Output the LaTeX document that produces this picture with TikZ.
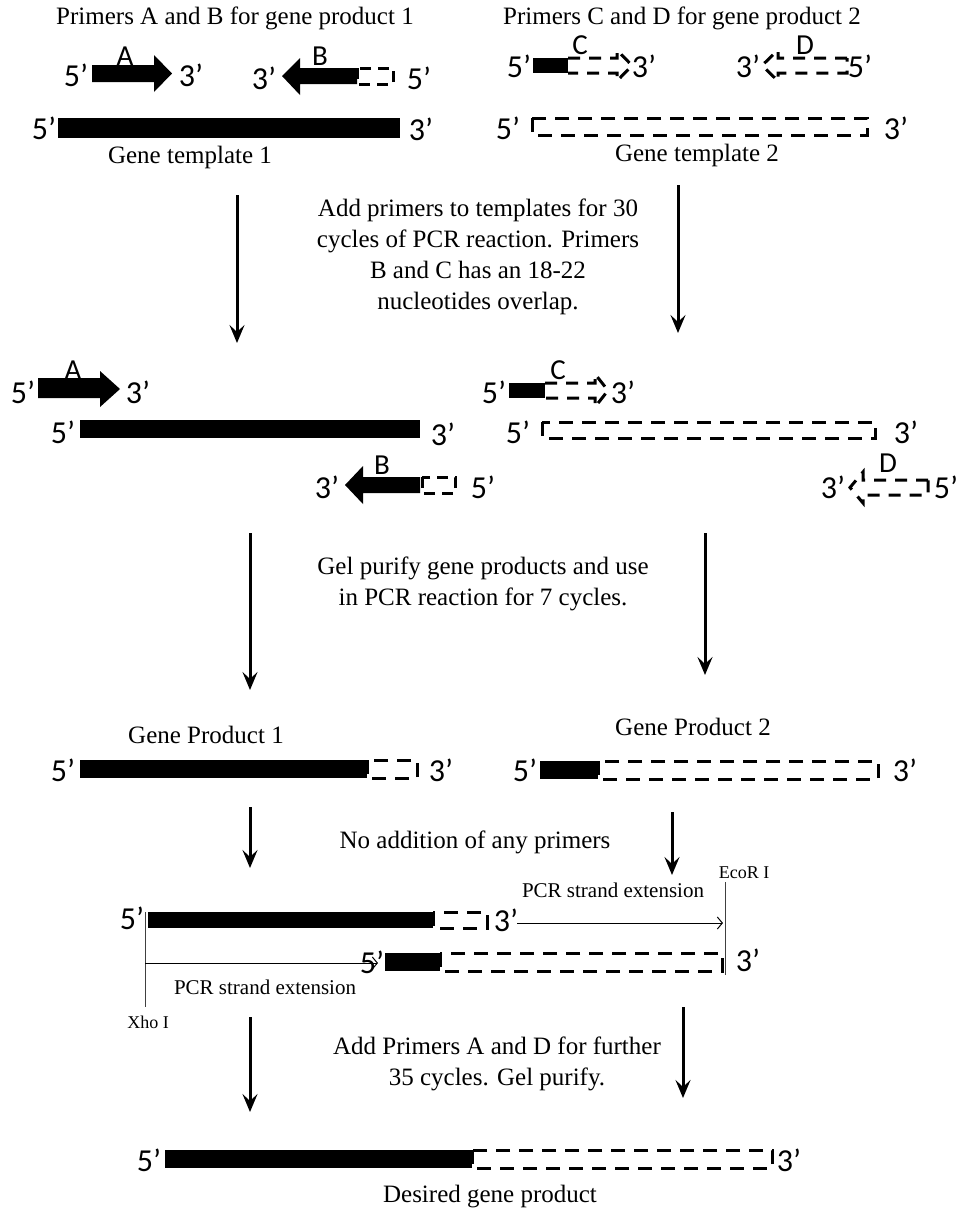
\documentclass[tikz,border=0pt]{standalone}
\usepackage{fontspec}
\setmainfont{Liberation Serif}
\newfontfamily\cali{Carlito}
\usetikzlibrary{arrows.meta}
\begin{document}
\begin{tikzpicture}[x=1pt,y=-1pt,
  txt/.style={font=\fontsize{25}{31}\selectfont, align=center, inner sep=0pt},
  small/.style={font=\fontsize{21}{25}\selectfont, inner sep=0pt},
  tiny/.style={font=\fontsize{18}{20}\selectfont, inner sep=0pt},
  lab/.style={font=\cali\fontsize{32}{32}\selectfont, inner sep=0pt},
  let/.style={font=\cali\fontsize{29}{29}\selectfont, inner sep=0pt},
  dsh/.style={line width=3pt, dash pattern=on 14pt off 9pt},
  flow/.style={line width=3pt, -{Stealth[length=18pt,width=15pt,inset=7pt]}},
  ext/.style={line width=1pt, -{Straight Barb[length=5pt,width=12pt]}},
  site/.style={line width=1pt, draw=black!75}]
\useasboundingbox (0,0) rectangle (961,1216);

% ---------- Row 1 ----------
\node[txt] (t1) at (235,18) {Primers A and B for gene product 1};
\node[txt] (t2) at (682,18) {Primers C and D for gene product 2};

\fill (92,65) -- (154,65) -- (154,55) -- (172,73.5) -- (154,92) -- (154,82) -- (92,82) -- cycle;
\node[lab] (r1a5) at (76,75) {5’};
\node[lab] (r1a3) at (191,75) {3’};
\node[let] (r1A) at (125,56) {A};

\fill (282,76) -- (300,58) -- (300,68) -- (357,68) -- (357,84) -- (300,84) -- (300,95) -- cycle;
\draw[dsh,dash pattern=on 11pt off 7pt] (357,68) rectangle (393,84);
\node[lab] (r1b3) at (264,78) {3’};
\node[lab] (r1b5) at (419,78) {5’};
\node[let] (r1B) at (320,56) {B};

\fill (58,118) rectangle (400,138);
\node[lab] (g15) at (44,128) {5’};
\node[lab] (g13) at (421,129) {3’};
\node[txt] (g1t) at (190,157) {Gene template 1};

\fill (533,58) rectangle (568,73);
\draw[dsh,dash pattern=on 12pt off 9pt] (568,58) -- (617,58) -- (617,50) -- (632,65.5) -- (617,81) -- (617,73) -- (568,73);
\node[lab] (r1c5) at (519,66) {5’};
\node[lab] (r1c3) at (644,66) {3’};
\node[let] (r1C) at (580,45) {C};

\draw[dsh,dash pattern=on 12pt off 9pt] (847,58) -- (778,58) -- (778,50) -- (762,65.5) -- (778,81) -- (778,73) -- (847,73) -- cycle;
\node[lab] (r1d3) at (748,66) {3’};
\node[lab] (r1d5) at (860,66) {5’};
\node[let] (r1D) at (805,45) {D};

\draw[dsh] (532,118) rectangle (867,135);
\node[lab] (g25) at (508,128) {5’};
\node[lab] (g23) at (896,128) {3’};
\node[txt] (g2t) at (697,155) {Gene template 2};

\coordinate (f1s) at (237,195); \coordinate (f1e) at (237,343);
\coordinate (f2s) at (678,185); \coordinate (f2e) at (678,333);
\draw[flow] (f1s) -- (f1e);
\draw[flow] (f2s) -- (f2e);
\node[txt] (s1) at (478,257) {Add primers to templates for 30\\cycles of PCR reaction. Primers\\B and C has an 18-22\\nucleotides overlap.};

% ---------- Row 2 ----------
\fill (38,378) -- (100,378) -- (100,371) -- (120,389) -- (100,407) -- (100,398) -- (38,398) -- cycle;
\node[lab] (r2a5) at (23,392) {5’};
\node[lab] (r2a3) at (138,392) {3’};
\node[let] (r2A) at (73,370) {A};

\fill (80,420) rectangle (420,438);
\node[lab] (p15) at (63,432) {5’};
\node[lab] (p13) at (443,434) {3’};

\fill (345,485) -- (363,466) -- (363,477) -- (420,477) -- (420,493) -- (363,493) -- (363,504) -- cycle;
\draw[dsh,dash pattern=on 11pt off 7pt] (422,477) rectangle (455,493);
\node[lab] (r2b3) at (327,487) {3’};
\node[lab] (r2b5) at (483,487) {5’};
\node[let] (r2B) at (382,465) {B};

\fill (509,383) rectangle (545,398);
\draw[dsh,dash pattern=on 12pt off 9pt] (545,383) -- (595,383) -- (595,374) -- (608,390.5) -- (595,407) -- (595,398) -- (545,398);
\node[lab] (r2c5) at (494,392) {5’};
\node[lab] (r2c3) at (623,392) {3’};
\node[let] (r2C) at (558,370) {C};

\draw[dsh] (542,422) rectangle (875,438);
\node[lab] (p25) at (518,432) {5’};
\node[lab] (p23) at (906,432) {3’};

\draw[dsh,dash pattern=on 12pt off 9pt] (928,480) -- (863,480) -- (863,472) -- (850,487.5) -- (863,503) -- (863,495) -- (928,495) -- cycle;
\node[lab] (r2d3) at (833,487) {3’};
\node[lab] (r2d5) at (946,487) {5’};
\node[let] (r2D) at (888,463) {D};

\coordinate (f3s) at (250,533); \coordinate (f3e) at (250,690);
\coordinate (f4s) at (705,533); \coordinate (f4e) at (705,675);
\draw[flow] (f3s) -- (f3e);
\draw[flow] (f4s) -- (f4e);
\node[txt] (s2) at (483,584) {Gel purify gene products and use\\in PCR reaction for 7 cycles.};

% ---------- Row 3 ----------
\node[txt] (gp1) at (206,735) {Gene Product 1};
\fill (80,760) rectangle (367,778);
\draw[dsh] (367,760) rectangle (417,778);
\node[lab] (q15) at (63,770) {5’};
\node[lab] (q13) at (441,770) {3’};

\node[txt] (gp2) at (693,727) {Gene Product 2};
\fill (540,761) rectangle (598,779);
\draw[dsh] (598,761) rectangle (878,779);
\node[lab] (q25) at (525,770) {5’};
\node[lab] (q23) at (905,770) {3’};

\coordinate (f5s) at (250,807); \coordinate (f5e) at (250,868);
\coordinate (f6s) at (672,812); \coordinate (f6e) at (672,875);
\draw[flow] (f5s) -- (f5e);
\draw[flow] (f6s) -- (f6e);
\node[txt] (s3) at (475,842) {No addition of any primers};

% ---------- Row 4 ----------
\fill (148,912) rectangle (433,928);
\draw[dsh] (433,912) rectangle (487,928);
\node[lab] (u5) at (132,918) {5’};
\node[lab] (u3) at (506,920) {3’};

\fill (385,953) rectangle (440,971);
\draw[dsh] (440,953) rectangle (722,971);
\node[lab] (w5) at (372,962) {5’};
\node[lab] (w3) at (748,960) {3’};

\coordinate (e1s) at (517,923); \coordinate (e1e) at (723,923);
\draw[ext] (e1s) -- (e1e);
\node[small] (pe1) at (613,890) {PCR strand extension};
\coordinate (ecoT) at (725,882); \coordinate (ecoB) at (725,975);
\draw[site] (ecoT) -- (ecoB);
\node[tiny] (eco) at (744,873) {EcoR I};

\coordinate (xhoT) at (145,912); \coordinate (xhoB) at (145,1007);
\draw[site] (xhoT) -- (xhoB);
\coordinate (e2s) at (145,963); \coordinate (e2e) at (378,963);
\draw[ext] (e2s) -- (e2e);
\node[small] (pe2) at (265,987) {PCR strand extension};
\node[tiny] (xho) at (148,1022) {Xho I};

\coordinate (f7s) at (250,1017); \coordinate (f7e) at (250,1112);
\coordinate (f8s) at (683,1007); \coordinate (f8e) at (683,1098);
\draw[flow] (f7s) -- (f7e);
\draw[flow] (f8s) -- (f8e);
\node[txt] (s4) at (497,1064) {Add Primers A and D for further\\35 cycles. Gel purify.};

% ---------- Row 5 ----------
\fill (165,1150) rectangle (472,1168);
\draw[dsh] (472,1150) rectangle (772,1168);
\node[lab] (v5) at (149,1160) {5’};
\node[lab] (v3) at (789,1160) {3’};
\node[txt] (dg) at (490,1197) {Desired gene product};
\end{tikzpicture}
\end{document}
